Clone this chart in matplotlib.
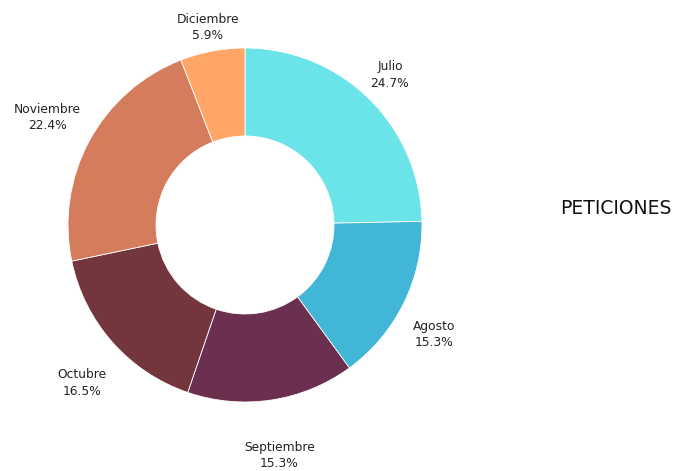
import numpy as np
import matplotlib.pyplot as plt

plt.rcParams["font.family"] = ["DejaVu Sans"]

# monthly share of requests
meses = ["Julio", "Agosto", "Septiembre", "Octubre", "Noviembre", "Diciembre"]
porcentajes = [24.7, 15.3, 15.3, 16.5, 22.4, 5.9]
colores = ["#6ae4e8", "#41b6d6", "#6b3050", "#73363c", "#d47c5c", "#ffa566"]

# label placement: distance in outer radii, plus a small vertical nudge (px)
dist_etiqueta = [1.17, 1.19, 1.30, 1.23, 1.27, 1.14]
dy_etiqueta = [2, -16, -3, -14, 0, -1]

fig = plt.figure(figsize=(6.79, 4.71), dpi=100)
ax = fig.add_axes([0, 0, 1, 1])

cx, cy, r = 245, 246, 177
wedges, _ = ax.pie(
    porcentajes,
    colors=colores,
    startangle=90,
    counterclock=False,
    center=(cx, cy),
    radius=r,
    wedgeprops=dict(width=88, edgecolor="white", linewidth=0.6),
    frame=True,
)

for w, m, p, d, dy in zip(wedges, meses, porcentajes, dist_etiqueta, dy_etiqueta):
    ang = np.deg2rad((w.theta1 + w.theta2) / 2)
    ax.text(cx + d * r * np.cos(ang), cy + d * r * np.sin(ang) + dy,
            f"{m}\n{p:.1f}%", ha="center", va="center",
            fontsize=8.8, color="#222222", linespacing=1.35)

ax.set_xlim(0, 679)
ax.set_ylim(0, 471)
ax.set_aspect("equal")
ax.axis("off")

ax.text(616, 263, "PETICIONES", fontsize=13.5, ha="center", va="center",
        color="#111111")

fig.savefig("out.png", dpi=100)
